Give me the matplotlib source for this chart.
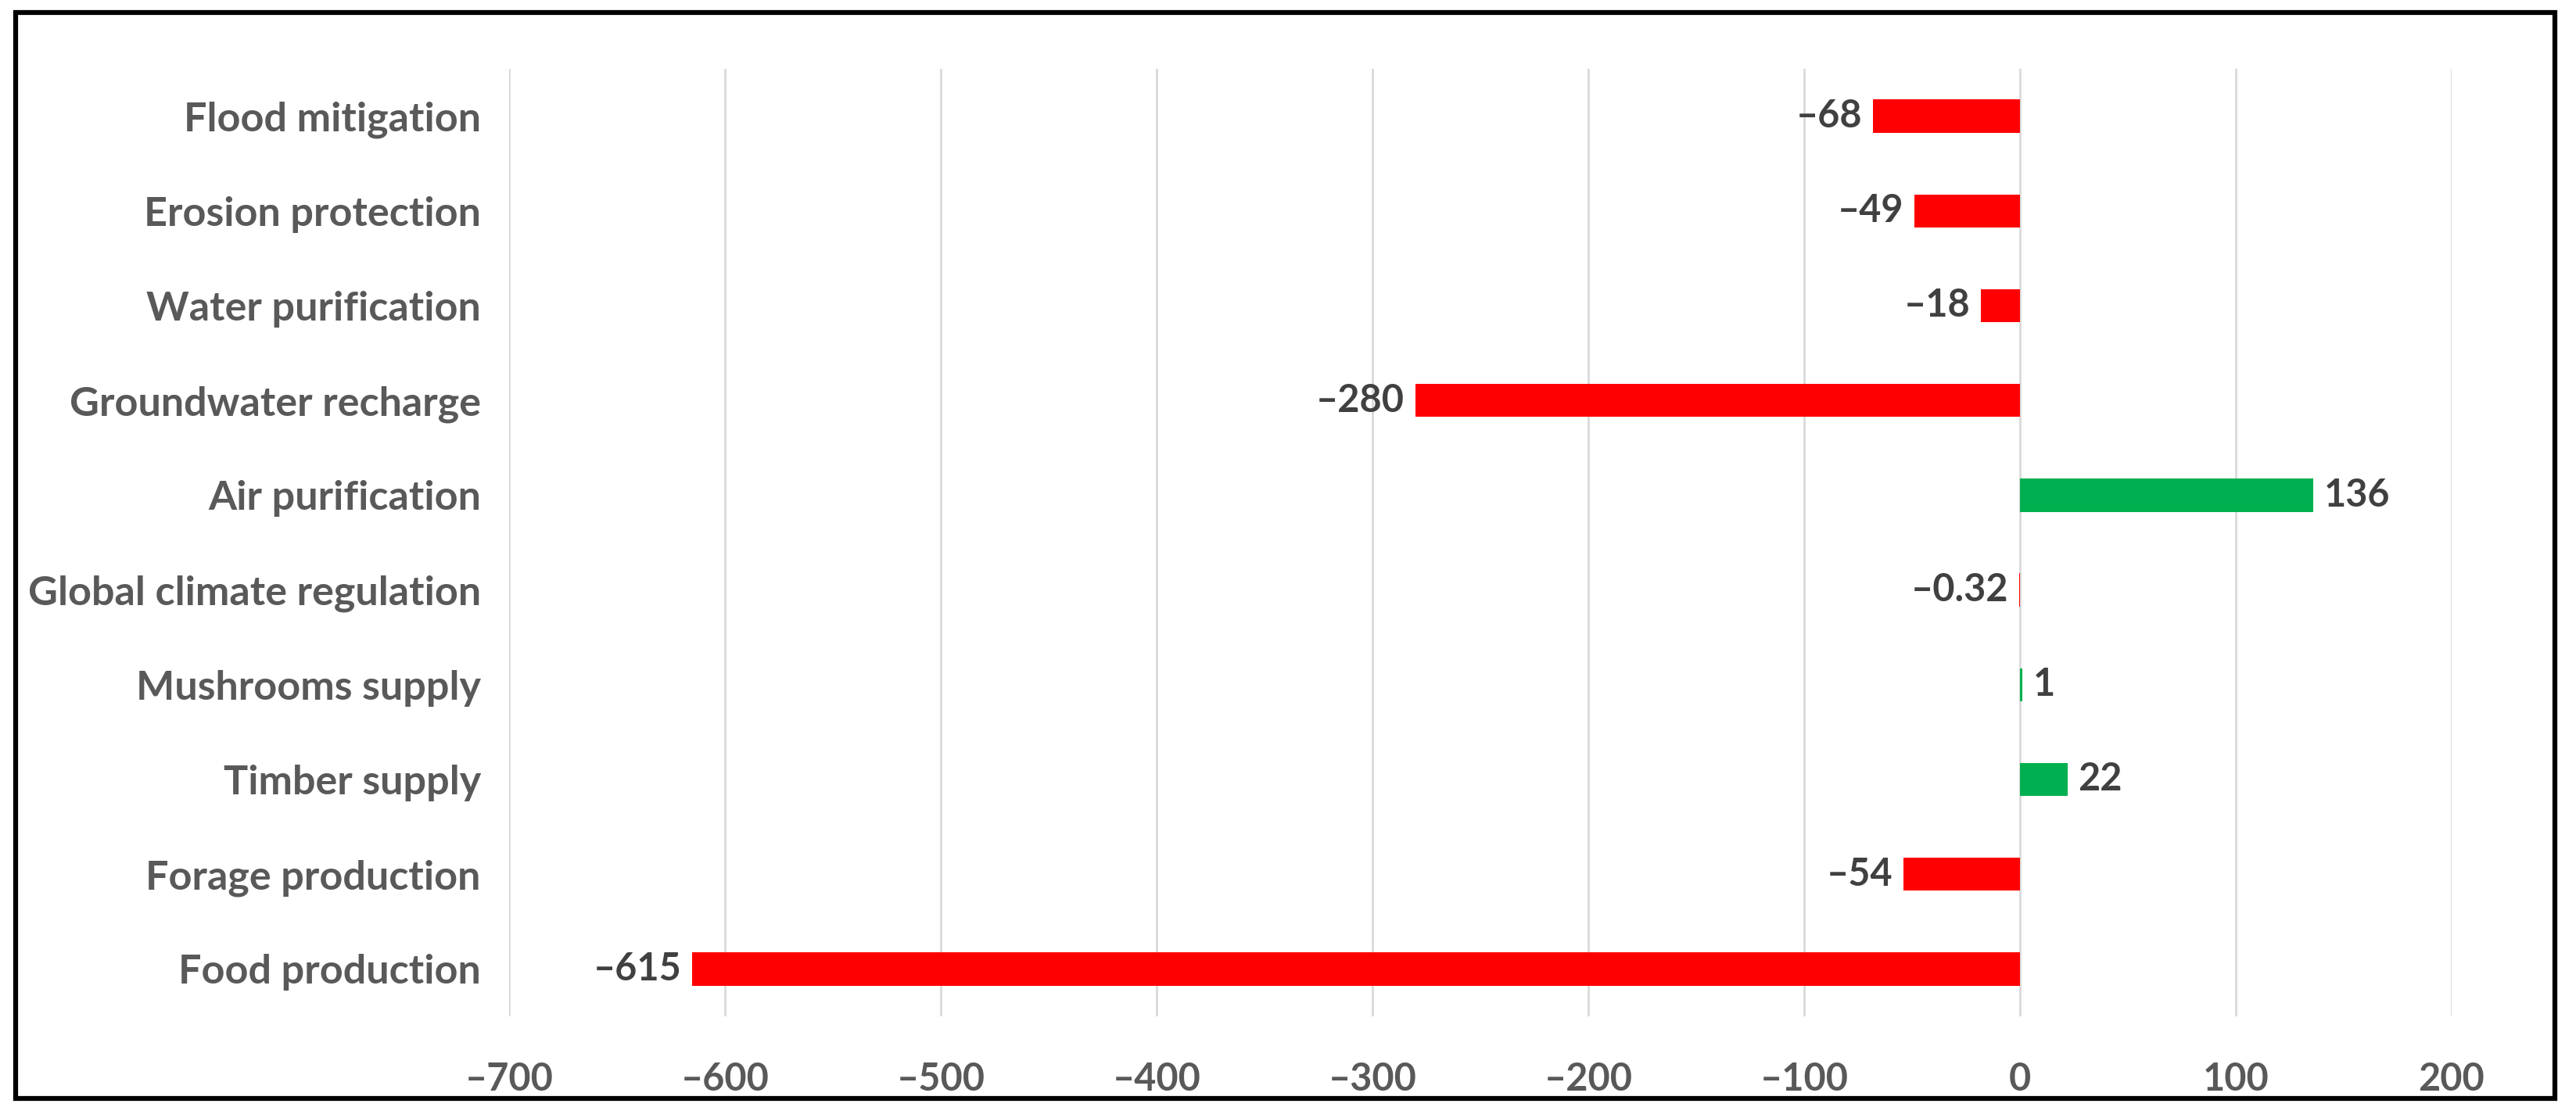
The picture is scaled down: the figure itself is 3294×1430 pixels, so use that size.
import matplotlib.pyplot as plt
import matplotlib.patches as mpatches

categories = [
    "Flood mitigation",
    "Erosion protection",
    "Water purification",
    "Groundwater recharge",
    "Air purification",
    "Global climate regulation",
    "Mushrooms supply",
    "Timber supply",
    "Forage production",
    "Food production",
]
values = [-68, -49, -18, -280, 136, -0.32, 1, 22, -54, -615]
value_labels = ["\u201368", "\u201349", "\u201318", "\u2013280", "136",
                "\u20130.32", "1", "22", "\u201354", "\u2013615"]
x_ticks = [-700, -600, -500, -400, -300, -200, -100, 0, 100, 200]
x_tick_labels = [f"\u2013{abs(t)}" if t < 0 else str(t) for t in x_ticks]

plt.rcParams['font.family'] = ['Lato', 'DejaVu Sans']

fig = plt.figure(figsize=(32.94, 14.30), dpi=100)
ax = fig.add_axes([0.1976, 0.0909, 0.7541, 0.8476])

n = len(categories)
y = [n - 1 - i for i in range(n)]
colors = ['#FF0000' if v < 0 else '#00B050' for v in values]
ax.barh(y, values, height=0.35, color=colors, zorder=3)

# data labels, Excel style: outside end of each bar
for yi, v, lab in zip(y, values, value_labels):
    if v < 0:
        ax.annotate(lab, (v, yi), xytext=(-10, 0), textcoords='offset points',
                    ha='right', va='center', fontsize=35, fontweight='bold',
                    color='#404040')
    else:
        ax.annotate(lab, (v, yi), xytext=(10, 0), textcoords='offset points',
                    ha='left', va='center', fontsize=35, fontweight='bold',
                    color='#404040')

ax.set_xlim(-700, 200)
ax.set_ylim(-0.5, n - 0.5)
ax.set_xticks(x_ticks)
ax.set_xticklabels(x_tick_labels)
ax.set_yticks(y)
ax.set_yticklabels(categories)
ax.tick_params(axis='both', length=0, labelcolor='#595959')
ax.tick_params(axis='x', pad=42, labelsize=35)
ax.tick_params(axis='y', pad=26, labelsize=37.5)
for lab in ax.get_xticklabels() + ax.get_yticklabels():
    lab.set_fontweight('bold')

ax.grid(True, axis='x', color='#D9D9D9', linewidth=2, zorder=0)
for s in ax.spines.values():
    s.set_visible(False)

# black frame round the whole figure
frame = mpatches.Rectangle((20 / 3294, 1 - 1405 / 1430), 3247 / 3294, 1389 / 1430,
                           transform=fig.transFigure, fill=False,
                           edgecolor='black', linewidth=4.5)
fig.patches.append(frame)

plt.savefig("out.png", dpi=100)
